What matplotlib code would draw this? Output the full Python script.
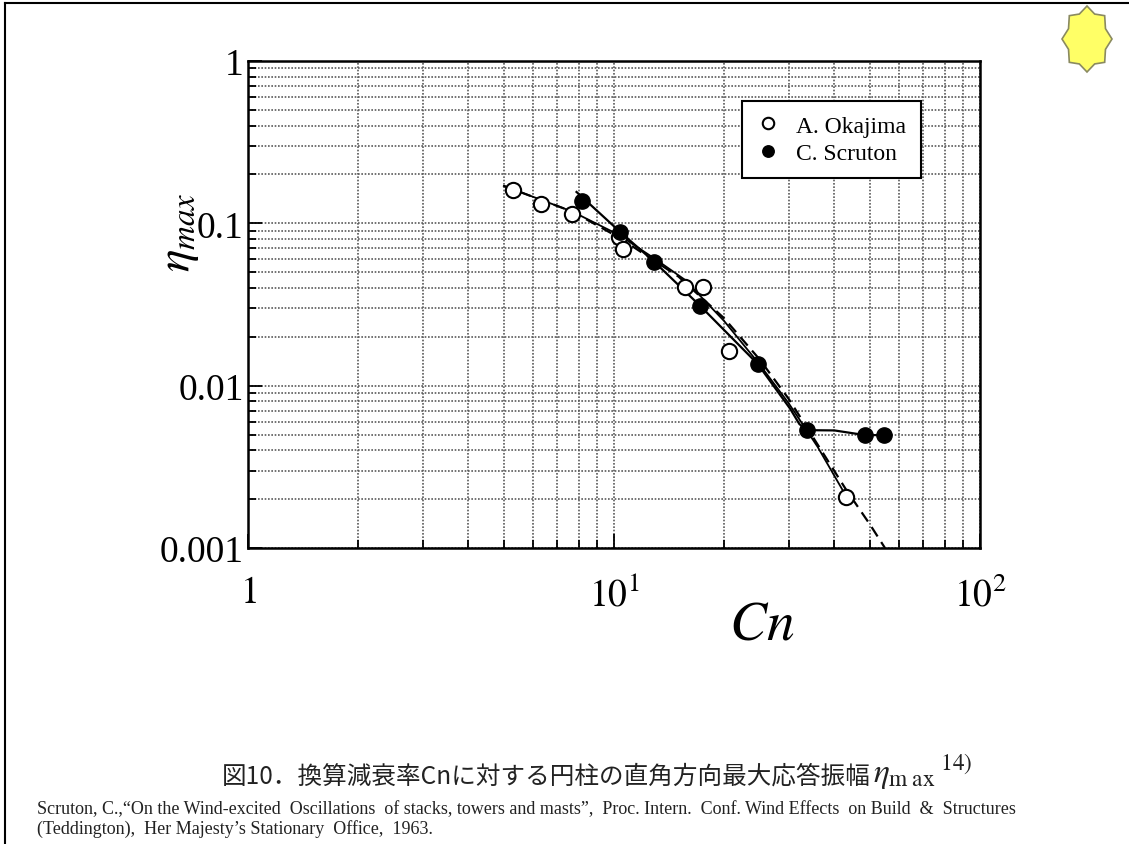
import numpy as np
import matplotlib
matplotlib.use('Agg')
import matplotlib.pyplot as plt
from matplotlib.patches import Polygon
from matplotlib.lines import Line2D

plt.rcParams['font.family'] = ['Liberation Serif', 'DejaVu Serif']
plt.rcParams['mathtext.fontset'] = 'stix'

# A. Okajima (open circles)
okajima_cn = [5.3, 6.3, 7.7, 10.3, 10.6, 15.6, 17.5, 20.6, 43.0]
okajima_eta = [0.160, 0.131, 0.114, 0.082, 0.0695, 0.0405, 0.0405, 0.0163, 0.00206]

# C. Scruton (filled circles)
scruton_cn = [8.2, 10.4, 12.9, 17.2, 24.7, 33.7, 48.5, 54.7]
scruton_eta = [0.137, 0.0884, 0.0578, 0.031, 0.0136, 0.00532, 0.00496, 0.00496]

# hand drawn curves
okajima_fit_cn = [5.0, 6.3, 7.7, 10.3, 13.0, 15.6, 20.0, 25.0, 30.0, 36.0, 43.0]
okajima_fit_eta = [0.17, 0.14, 0.118, 0.085, 0.06, 0.045, 0.025, 0.0135, 0.0078, 0.0042, 0.0021]

dashed_cn = [5.0, 7.7, 10.3, 15.0, 20.0, 25.0, 30.0, 35.0, 43.0, 50.0, 55.0]
dashed_eta = [0.17, 0.118, 0.082, 0.047, 0.026, 0.0145, 0.0083, 0.0048, 0.0023, 0.0014, 0.001]

scruton_fit_cn = [7.9, 10.4, 12.9, 17.2, 24.7, 30.3, 32.1, 33.7, 40.0, 48.5, 54.7]
scruton_fit_eta = [0.156, 0.0884, 0.0578, 0.031, 0.0136, 0.0072, 0.0058, 0.00532, 0.0053, 0.00496, 0.00496]

W, H = 1129, 845
fig = plt.figure(figsize=(W / 100, H / 100), dpi=100)
ax = fig.add_axes([248 / W, 1 - 549 / H, 732 / W, 487 / H])
ax.set_xscale('log')
ax.set_yscale('log')
ax.set_xlim(1, 100)
ax.set_ylim(0.001, 1)

ax.grid(True, which='both', color='#5a5a5a', lw=1.2, ls=(0, (1, 1)))
ax.set_axisbelow(True)
for s in ax.spines.values():
    s.set_linewidth(1.8)

ax.plot(okajima_fit_cn, okajima_fit_eta, color='black', lw=1.3)
ax.plot(dashed_cn, dashed_eta, color='black', lw=1.6, ls=(0, (5, 3)))
ax.plot(scruton_fit_cn, scruton_fit_eta, color='black', lw=1.6)
ax.plot(okajima_cn, okajima_eta, 'o', ms=11, mfc='white', mec='black', mew=1.5,
        label='A. Okajima', zorder=5)
ax.plot(scruton_cn, scruton_eta, 'o', ms=11, mfc='black', mec='black',
        label='C. Scruton', zorder=6)

ax.tick_params(which='both', direction='in', width=1.3)
ax.tick_params(which='major', length=10)
ax.tick_params(which='minor', length=6)
ax.set_xticks([1, 10, 100])
ax.set_xticklabels([r'$\mathrm{1}$', r'$\mathrm{10^{1}}$', r'$\mathrm{10^{2}}$'], fontsize=27)
ax.tick_params(axis='x', which='major', pad=20)
ax.set_yticks([0.001, 0.01, 0.1, 1])
ax.set_yticklabels(['0.001', '0.01', '0.1', '1'], fontsize=27)
ax.tick_params(axis='y', which='major', pad=3)

leg = ax.legend(loc='upper left', bbox_to_anchor=(0.675, 0.918), fontsize=17,
                frameon=True, fancybox=False, edgecolor='black', framealpha=1,
                borderpad=0.6, handlelength=1.0, handletextpad=0.7,
                labelspacing=0.25, markerscale=0.75, borderaxespad=0)
leg.get_frame().set_linewidth(1.5)

fig.text(180 / W, 1 - 232 / H, r'$\eta_{max}$', fontsize=34, rotation=90,
         ha='center', va='center')
fig.text(762 / W, 1 - 626 / H, r'$C n$', fontsize=40, ha='center', va='center')

cap = fig.text(222 / W, 1 - 777 / H, '図10．換算減衰率Cnに対する円柱の直角方向最大応答振幅',
               fontsize=17.7, family=['Noto Sans CJK JP', 'DejaVu Sans'], color='#222222',
               va='center', ha='left')
fig.canvas.draw()
bb = cap.get_window_extent(fig.canvas.get_renderer())
fig.text(bb.x1 / W + 0.002, 1 - 772 / H, r'$\eta_{\mathrm{m\;ax}}{}^{\;\mathrm{14)}}$',
         fontsize=24, va='center', ha='left', color='#222222')

fig.text(37 / W, 1 - 810 / H,
         'Scruton, C.,\u201cOn the Wind-excited  Oscillations  of stacks, towers and masts\u201d,  '
         'Proc. Intern.  Conf. Wind Effects  on Build  &  Structures',
         fontsize=13, va='center', ha='left', color='#222222')
fig.text(37 / W, 1 - 829 / H,
         '(Teddington),  Her Majesty\u2019s Stationary  Office,  1963.',
         fontsize=13, va='center', ha='left', color='#222222')

# slide border
fig.add_artist(Line2D([5 / W, 1], [1 - 4 / H, 1 - 4 / H], color='black', lw=1.5))
fig.add_artist(Line2D([5 / W, 5 / W], [0, 1 - 4 / H], color='black', lw=1.5))

# decorative star top right
cx, cy = 1087, 40
ang = np.pi / 2 + np.arange(16) * np.pi / 8
rx = np.where(np.arange(16) % 2 == 0, 25, 20)
ry = np.where(np.arange(16) % 2 == 0, 33, 27)
pts = np.column_stack([(cx + rx * np.cos(ang)) / W, 1 - (cy - ry * np.sin(ang)) / H])
fig.add_artist(Polygon(pts, closed=True, facecolor='#FFFF66', edgecolor='#8a8a60',
                       lw=1.2, transform=fig.transFigure))

fig.savefig('out.png', dpi=100)
